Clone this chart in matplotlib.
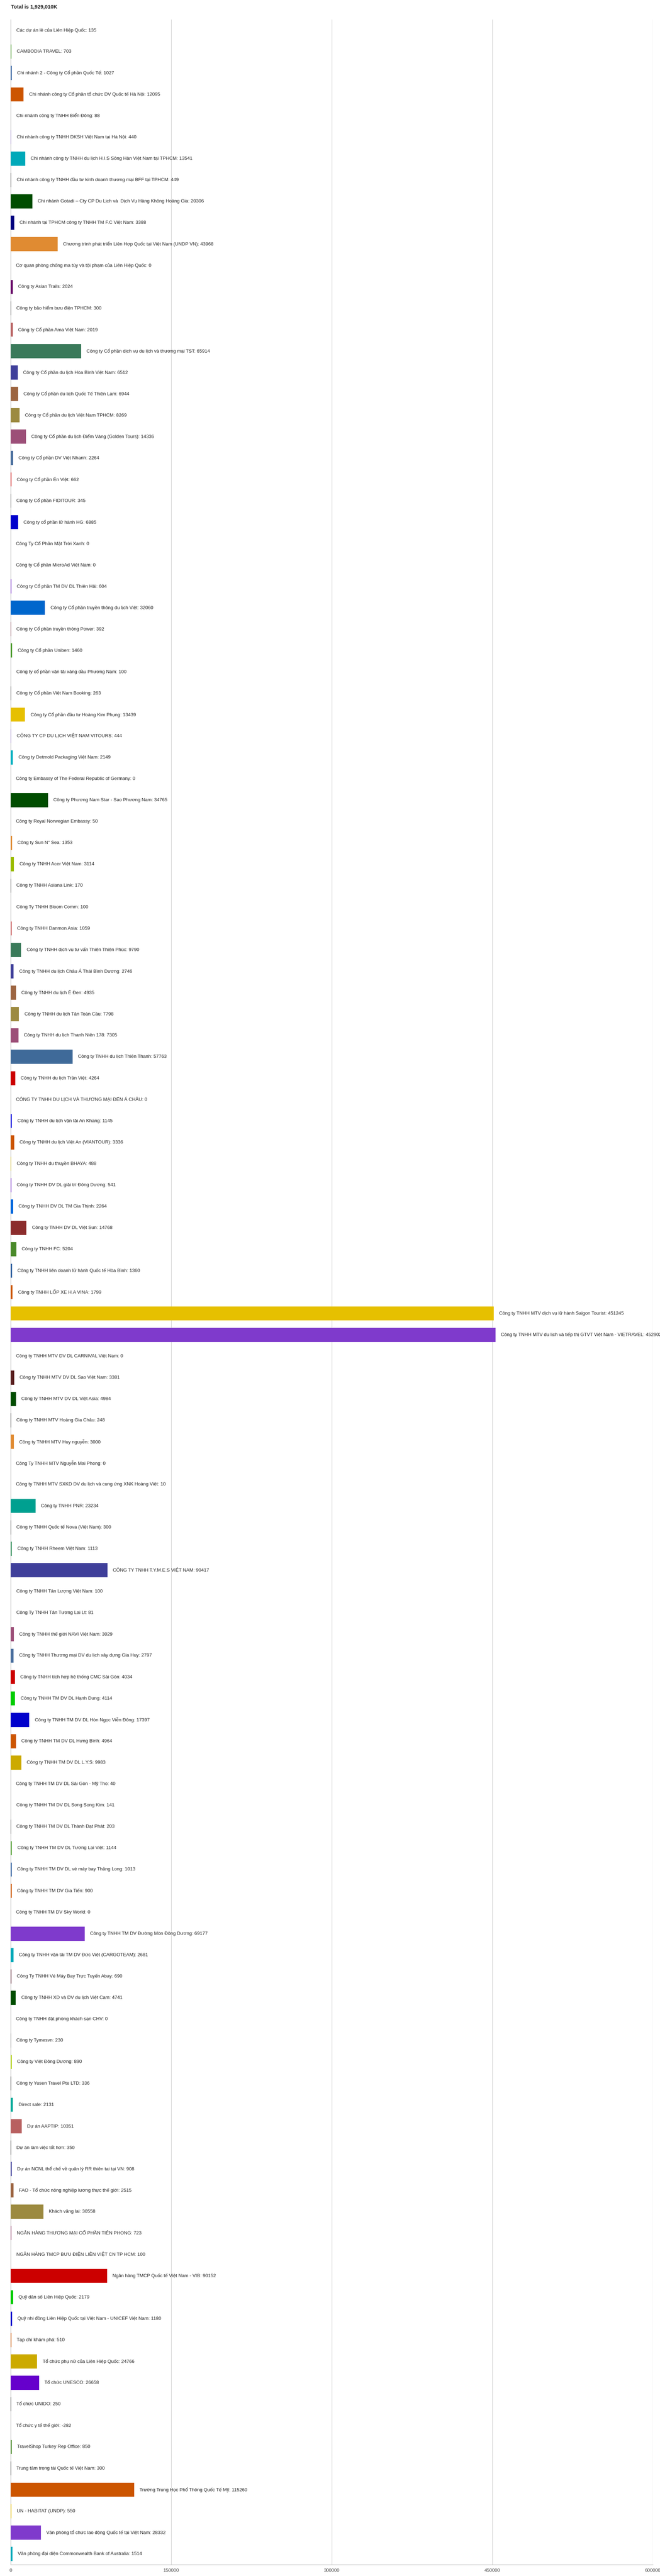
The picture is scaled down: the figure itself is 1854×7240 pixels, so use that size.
import numpy as np
import matplotlib
matplotlib.use("Agg")
import matplotlib.pyplot as plt

plt.rcParams['font.family'] = ['Liberation Sans', 'DejaVu Sans']

# nhà cung cấp / khách hàng
companies = [
    "Các dự án lẻ của Liên Hiệp Quốc",
    "CAMBODIA TRAVEL",
    "Chi nhánh 2 - Công ty Cổ phần Quốc Tế",
    "Chi nhánh công ty Cổ phần tổ chức DV Quốc tế Hà Nội",
    "Chi nhánh công ty TNHH Biển Đông",
    "Chi nhánh công ty TNHH DKSH Việt Nam tại Hà Nội",
    "Chi nhánh công ty TNHH du lịch H.I.S Sông Hàn Việt Nam tại TPHCM",
    "Chi nhánh công ty TNHH đầu tư kinh doanh thương mại BFF tại TPHCM",
    "Chi nhánh Gotadi – Cty CP Du Lịch và  Dịch Vụ Hàng Không Hoàng Gia",
    "Chi nhánh tại TPHCM công ty TNHH TM F.C Việt Nam",
    "Chương trình phát triển Liên Hợp Quốc tại Việt Nam (UNDP VN)",
    "Cơ quan phòng chống ma túy và tội phạm của Liên Hiệp Quốc",
    "Công ty Asian Trails",
    "Công ty bảo hiểm bưu điện TPHCM",
    "Công ty Cổ phần Ama Việt Nam",
    "Công ty Cổ phần dịch vụ du lịch và thương mại TST",
    "Công ty Cổ phần du lịch Hòa Bình Việt Nam",
    "Công ty Cổ phần du lịch Quốc Tế Thiên Lam",
    "Công ty Cổ phần du lịch Việt Nam TPHCM",
    "Công ty Cổ phần du lịch Điểm Vàng (Golden Tours)",
    "Công ty Cổ phần DV Việt Nhanh",
    "Công ty Cổ phần Én Việt",
    "Công ty Cổ phần FIDITOUR",
    "Công ty cổ phần lữ hành HG",
    "Công Ty Cổ Phần Mặt Trời Xanh",
    "Công ty Cổ phần MicroAd Việt Nam",
    "Công ty Cổ phần TM DV DL Thiên Hải",
    "Công ty Cổ phần truyền thông du lịch Việt",
    "Công ty Cổ phần truyền thông Power",
    "Công ty Cổ phần Uniben",
    "Công ty cổ phần vận tải xăng dầu Phương Nam",
    "Công ty Cổ phần Việt Nam Booking",
    "Công ty Cổ phần đầu tư Hoàng Kim Phụng",
    "CÔNG TY CP DU LỊCH VIỆT NAM VITOURS",
    "Công ty Detmold Packaging Việt Nam",
    "Công ty Embassy of The Federal Republic of Germany",
    "Công ty Phương Nam Star - Sao Phương Nam",
    "Công ty Royal Norwegian Embassy",
    "Công ty Sun N\" Sea",
    "Công ty TNHH Acer Việt Nam",
    "Công ty TNHH Asiana Link",
    "Công Ty TNHH Bloom Comm",
    "Công ty TNHH Danmon Asia",
    "Công ty TNHH dịch vụ tư vấn Thiên Thiên Phúc",
    "Công ty TNHH du lịch Châu Á Thái Bình Dương",
    "Công ty TNHH du lịch Ê Đen",
    "Công ty TNHH du lịch Tân Toàn Cầu",
    "Công ty TNHH du lịch Thanh Niên 178",
    "Công ty TNHH du lịch Thiên Thanh",
    "Công ty TNHH du lịch Trần Việt",
    "CÔNG TY TNHH DU LỊCH VÀ THƯƠNG MẠI ĐẾN Á CHÂU",
    "Công ty TNHH du lịch vận tải An Khang",
    "Công ty TNHH du lịch Việt An (VIANTOUR)",
    "Công ty TNHH du thuyền BHAYA",
    "Công ty TNHH DV DL giải trí Đông Dương",
    "Công ty TNHH DV DL TM Gia Thịnh",
    "Công ty TNHH DV DL Việt Sun",
    "Công ty TNHH FC",
    "Công ty TNHH liên doanh lữ hành Quốc tế Hòa Bình",
    "Công ty TNHH LỐP XE H.A VINA",
    "Công ty TNHH MTV dịch vụ lữ hành Saigon Tourist",
    "Công ty TNHH MTV du lịch và tiếp thị GTVT Việt Nam - VIETRAVEL",
    "Công ty TNHH MTV DV DL CARNIVAL Việt Nam",
    "Công ty TNHH MTV DV DL Sao Việt Nam",
    "Công ty TNHH MTV DV DL Việt Asia",
    "Công ty TNHH MTV Hoàng Gia Châu",
    "Công ty TNHH MTV Huy nguyễn",
    "Công Ty TNHH MTV Nguyễn Mai Phong",
    "Công ty TNHH MTV SXKD DV du lịch và cung ứng XNK Hoàng Việt",
    "Công ty TNHH PNR",
    "Công ty TNHH Quốc tế Nova (Việt Nam)",
    "Công ty TNHH Rheem Việt Nam",
    "CÔNG TY TNHH T.Y.M.E.S VIỆT NAM",
    "Công ty TNHH Tân Lượng Việt Nam",
    "Công Ty TNHH Tân Tương Lai Lt",
    "Công ty TNHH thế giới NAVI Việt Nam",
    "Công ty TNHH Thương mại DV du lịch xây dựng Gia Huy",
    "Công ty TNHH tích hợp hệ thống CMC Sài Gòn",
    "Công ty TNHH TM DV DL Hạnh Dung",
    "Công ty TNHH TM DV DL Hòn Ngọc Viễn Đông",
    "Công ty TNHH TM DV DL Hưng Bình",
    "Công ty TNHH TM DV DL L.Y.S",
    "Công ty TNHH TM DV DL Sài Gòn - Mỹ Tho",
    "Công ty TNHH TM DV DL Song Song Kim",
    "Công ty TNHH TM DV DL Thành Đạt Phát",
    "Công ty TNHH TM DV DL Tương Lai Việt",
    "Công ty TNHH TM DV DL vé máy bay Thăng Long",
    "Công ty TNHH TM DV Gia Tiến",
    "Công ty TNHH TM DV Sky World",
    "Công ty TNHH TM DV Đường Mòn Đông Dương",
    "Công ty TNHH vận tải TM DV Đức Việt (CARGOTEAM)",
    "Công Ty TNHH Vé Máy Bay Trực Tuyến Abay",
    "Công ty TNHH XD và DV du lịch Việt Cam",
    "Công ty TNHH đặt phòng khách sạn CHV",
    "Công ty Tymesvn",
    "Công ty Việt Đông Dương",
    "Công ty Yusen Travel Pte LTD",
    "Direct sale",
    "Dự án AAPTIP",
    "Dự án làm việc tốt hơn",
    "Dự án NCNL thể chế về quản lý RR thiên tai tại VN",
    "FAO - Tổ chức nông nghiệp lương thực thế giới",
    "Khách vãng lai",
    "NGÂN HÀNG THƯƠNG MẠI CỔ PHẦN TIÊN PHONG",
    "NGÂN HÀNG TMCP BƯU ĐIỆN LIÊN VIỆT CN TP HCM",
    "Ngân hàng TMCP Quốc tế Việt Nam - VIB",
    "Quỹ dân số Liên Hiệp Quốc",
    "Quỹ nhi đồng Liên Hiệp Quốc tại Việt Nam - UNICEF Việt Nam",
    "Tạp chí khám phá",
    "Tổ chức phụ nữ của Liên Hiệp Quốc",
    "Tổ chức UNESCO",
    "Tổ chức UNIDO",
    "Tổ chức y tế thế giới",
    "TravelShop Turkey Rep Office",
    "Trung tâm trọng tài Quốc tế Việt Nam",
    "Trường Trung Học Phổ Thông Quốc Tế Mỹ",
    "UN - HABITAT (UNDP)",
    "Văn phòng tổ chức lao động Quốc tế tại Việt Nam",
    "Văn phòng đại diện Commonwealth Bank of Australia",
]

revenue = [
    135, 703, 1027, 12095, 88, 440, 13541, 449, 20306, 3388,
    43968, 0, 2024, 300, 2019, 65914, 6512, 6944, 8269, 14336,
    2264, 662, 345, 6885, 0, 0, 604, 32060, 392, 1460,
    100, 263, 13439, 444, 2149, 0, 34765, 50, 1353, 3114,
    170, 100, 1059, 9790, 2746, 4935, 7798, 7305, 57763, 4264,
    0, 1145, 3336, 488, 541, 2264, 14768, 5204, 1360, 1799,
    451245, 452902, 0, 3381, 4984, 248, 3000, 0, 10, 23234,
    300, 1113, 90417, 100, 81, 3029, 2797, 4034, 4114, 17397,
    4964, 9983, 40, 141, 203, 1144, 1013, 900, 0, 69177,
    2681, 690, 4741, 0, 230, 890, 336, 2131, 10351, 350,
    908, 2515, 30558, 723, 100, 90152, 2179, 1180, 510, 24766,
    26658, 250, -282, 850, 300, 115260, 550, 28332, 1514,
]

total_text = "Total is 1,929,010K"
xticks = [0, 150000, 300000, 450000, 600000]

colors = [
    '#888888', '#4a9a2a', '#2f5f9f', '#cc5500', '#cccccc', '#9a7fd0', '#00a9b9', '#444444', '#004d00', '#000080',
    '#e08b32', '#cccccc', '#660066', '#555555', '#b86060', '#3a7a5a', '#3f3f9a', '#9c6440', '#9c8a40', '#9c4f78',
    '#4a6f9e', '#cc0000', '#666666', '#0000cc', '#cccccc', '#cccccc', '#7a33cc', '#0066cc', '#884455', '#4a9a2a',
    '#999999', '#555555', '#e6c000', '#9a7fd0', '#00b0c0', '#cccccc', '#004d00', '#999999', '#e08b32', '#99bb00',
    '#555555', '#999999', '#cc6666', '#3a7a5a', '#3f3f9a', '#9c6440', '#9c8a40', '#9c4f78', '#3f6a99', '#cc0000',
    '#cccccc', '#0000dd', '#cc5500', '#d4b800', '#7a33cc', '#0066dd', '#8b2c2c', '#4a8a2a', '#2f5f9f', '#cc5500',
    '#e6c000', '#7f3acc', '#cccccc', '#5a2020', '#004d00', '#333333', '#e08b32', '#cccccc', '#999999', '#00a090',
    '#555555', '#2e8b57', '#3f3f9a', '#999999', '#999999', '#9c4f78', '#4a6f9e', '#cc0000', '#00cc00', '#0000cc',
    '#cc5500', '#ccaa00', '#999999', '#999999', '#666666', '#4a9a2a', '#2f5f9f', '#cc5500', '#cccccc', '#7f3acc',
    '#00a9b9', '#5a2030', '#004d00', '#cccccc', '#888888', '#aacc00', '#222222', '#00aa99', '#b86060', '#333333',
    '#3f3f9a', '#9c6440', '#9c8a40', '#9c4f78', '#999999', '#cc0000', '#00cc00', '#0000cc', '#cc5500', '#ccaa00',
    '#6600cc', '#333333', '#999999', '#4a8a2a', '#333333', '#cc5500', '#e6c000', '#7f3acc', '#00a9b9',
]

W, H = 1854, 7240
fig = plt.figure(figsize=(W / 100, H / 100), dpi=100)
ax = fig.add_axes([30 / W, 32 / H, (1834 - 30) / W, (7208 - 55) / H])

y = np.arange(len(companies))
ax.barh(y, revenue, height=0.66, color=colors, zorder=3)

for i, (name, v) in enumerate(zip(companies, revenue)):
    ax.annotate(f"{name}: {v}", xy=(max(v, 0), i), xytext=(11, 0),
                textcoords='offset points', va='center', ha='left',
                fontsize=9.5, color='#222222', zorder=4)

ax.set_ylim(len(companies) - 0.5, -0.5)
ax.set_xlim(xticks[0], xticks[-1])
ax.set_xticks(xticks)
ax.set_xticklabels([str(t) for t in xticks], fontsize=9.5, color='#444444')
ax.tick_params(axis='x', length=0, pad=8)
ax.set_yticks([])
ax.grid(axis='x', color='#cccccc', linewidth=1, zorder=0)
for side in ['top', 'right']:
    ax.spines[side].set_visible(False)
for side in ['left', 'bottom']:
    ax.spines[side].set_color('#bbbbbb')
    ax.spines[side].set_linewidth(1)

fig.text(31 / W, 1 - 19 / H, total_text, fontsize=10.5, fontweight='bold',
         color='#222222', ha='left', va='center')

fig.savefig("out.png", dpi=100)
